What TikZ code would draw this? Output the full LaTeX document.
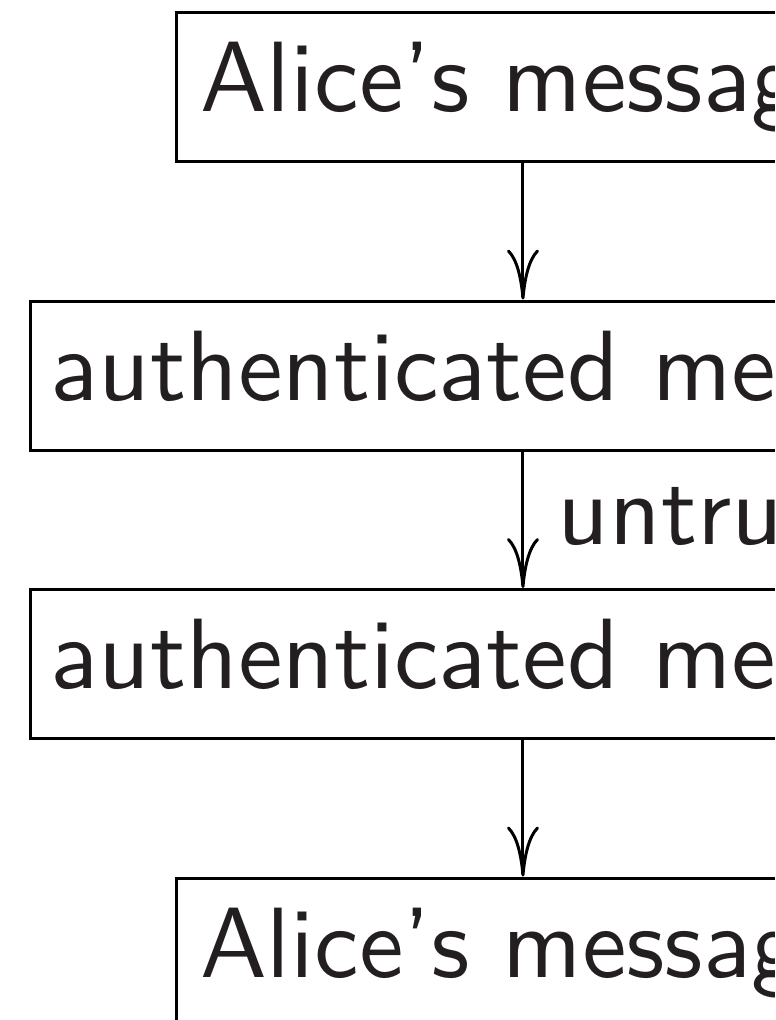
\documentclass[tikz,border=0pt]{standalone}
\usetikzlibrary{arrows.meta,calc}
\definecolor{ink}{HTML}{231F20}
\begin{document}
\begin{tikzpicture}[x=0.1pt,y=-0.1pt,
  flowbox/.style={draw=black, line width=0.3pt, rectangle, inner xsep=0pt, inner ysep=0pt,
    text height=9.9pt, text depth=5pt, text=ink,
    font=\sffamily\fontsize{10}{12}\selectfont},
  flowarrow/.style={draw=black, line width=0.3pt,
    -{Computer Modern Rightarrow[length=5pt,width=3.2pt]}},
  flowlabel/.style={text=ink, inner sep=0pt, font=\sffamily\fontsize{10}{12}\selectfont}]
\useasboundingbox (0,0) rectangle (775,1020);
\clip (0,0) rectangle (775,1020);
\node[flowbox, minimum width=69.4pt] (alice)  at (523,87)    {Alice's message};
\node[flowbox, minimum width=98.6pt] (authA)  at (523,375.5) {authenticated message};
\node[flowbox, minimum width=98.6pt] (authB)  at (523,664)   {authenticated message};
\node[flowbox, minimum width=69.4pt] (bob)    at (523,952.5) {Alice's message};
\draw[flowarrow] (alice) -- (authA);
\draw[flowarrow] (authA) -- (authB);
\draw[flowarrow] (authB) -- (bob);
\coordinate (mid) at ($(authA.south)!0.5!(authB.north)$);
\node[flowlabel, anchor=base west] (net) at ($(mid)+(33,25)$) {untrusted network};
\end{tikzpicture}
\end{document}
